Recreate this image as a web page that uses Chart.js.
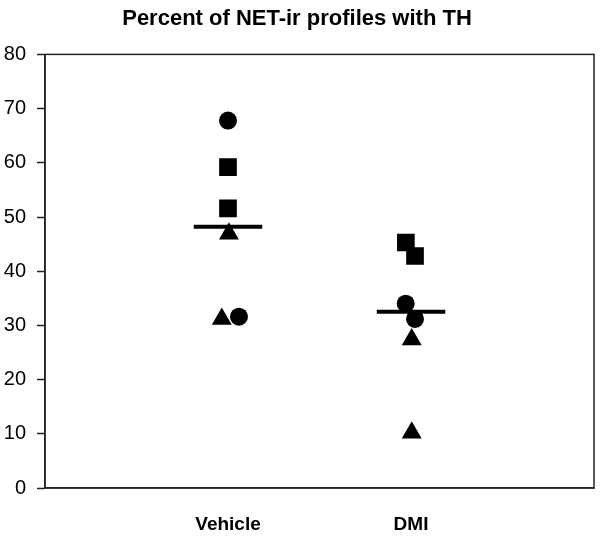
<!DOCTYPE html>
<html>
<head>
<meta charset="utf-8">
<script src="https://cdn.jsdelivr.net/npm/chart.js@4.4.1/dist/chart.umd.min.js"></script>
<style>
  html, body { margin: 0; padding: 0; background: #fff; }
  #wrap { width: 600px; height: 540px; }
</style>
</head>
<body>
<div id="wrap"><canvas id="chart" width="600" height="540"></canvas></div>
<script>
const categories = ['Vehicle', 'DMI'];
const yTicks = [0, 10, 20, 30, 40, 50, 60, 70, 80];

// individual animals, x = category position (1 or 2) plus the small jitter seen in the plot
const vehicleCircleX = [1.00, 1.06];
const vehicleCircleY = [67.8, 31.6];
const vehicleSquareX = [1.00, 1.00];
const vehicleSquareY = [59.2, 51.6];
const vehicleTriangleX = [1.005, 0.966];
const vehicleTriangleY = [46.9, 31.2];

const dmiSquareX = [1.972, 2.022];
const dmiSquareY = [45.3, 42.8];
const dmiCircleX = [1.971, 2.022];
const dmiCircleY = [34.0, 31.2];
const dmiTriangleX = [2.004, 2.004];
const dmiTriangleY = [27.4, 10.2];

const means = [48.2, 32.5];

const FONT = "'Liberation Sans', Arial, sans-serif";
const meanHalf = 0.187;

function pts(xs, ys) {
  return ys.map((y, i) => ({ x: xs[i], y: y }));
}

function markers(xs, ys, style, r) {
  return {
    type: 'scatter',
    data: pts(xs, ys),
    pointStyle: style,
    pointRadius: r,
    pointHoverRadius: r,
    pointBackgroundColor: '#000',
    pointBorderColor: '#000',
    pointBorderWidth: 0,
  };
}

const meanSets = means.map((m, i) => ({
  type: 'line',
  data: [{ x: i + 1 - meanHalf, y: m }, { x: i + 1 + meanHalf, y: m }],
  borderColor: '#000',
  borderWidth: 4,
  pointRadius: 0,
  borderCapStyle: 'butt',
}));

const frame = {
  id: 'frame',
  afterDatasetsDraw(chart) {
    const a = chart.chartArea;
    const ctx = chart.ctx;
    ctx.save();
    ctx.strokeStyle = '#222';
    ctx.lineWidth = 1.5;
    ctx.strokeRect(a.left, a.top, a.right - a.left, a.bottom - a.top);
    ctx.restore();
  }
};

new Chart(document.getElementById('chart'), {
  type: 'scatter',
  data: {
    datasets: [
      markers(vehicleCircleX, vehicleCircleY, 'circle', 9),
      markers(vehicleSquareX, vehicleSquareY, 'rect', 12.5),
      markers(vehicleTriangleX, vehicleTriangleY, 'triangle', 11.5),
      markers(dmiSquareX, dmiSquareY, 'rect', 12.5),
      markers(dmiCircleX, dmiCircleY, 'circle', 9),
      markers(dmiTriangleX, dmiTriangleY, 'triangle', 11.5),
      ...meanSets,
    ]
  },
  options: {
    responsive: false,
    animation: false,
    layout: { autoPadding: false, padding: { right: 6 } },
    plugins: {
      legend: { display: false },
      tooltip: { enabled: false },
      title: {
        display: true,
        text: 'Percent of NET-ir profiles with TH',
        color: '#000',
        font: { family: FONT, size: 22, weight: 'bold' },
        padding: { top: 6, bottom: 22 },
      },
    },
    scales: {
      x: {
        type: 'linear',
        min: 0,
        max: 3,
        afterBuildTicks(scale) {
          scale.ticks = categories.map((c, i) => ({ value: i + 1 }));
        },
        ticks: {
          callback: (v) => categories[v - 1] || '',
          color: '#000',
          font: { family: FONT, size: 19, weight: 'bold' },
          padding: 17,
          maxRotation: 0,
        },
        grid: { display: false },
        border: { color: '#222', width: 1.5 },
        afterFit(scale) { scale.height = 52; },
      },
      y: {
        min: 0,
        max: 80,
        afterBuildTicks(scale) {
          scale.ticks = yTicks.map((v) => ({ value: v }));
        },
        ticks: {
          color: '#000',
          font: { family: FONT, size: 20 },
          padding: 11,
        },
        grid: {
          drawOnChartArea: false,
          drawTicks: true,
          tickLength: 8,
          tickColor: '#222',
          tickWidth: 1.5,
        },
        border: { color: '#222', width: 1.5 },
        afterFit(scale) { scale.width = 45; },
      },
    },
  },
  plugins: [frame],
});
</script>
</body>
</html>
